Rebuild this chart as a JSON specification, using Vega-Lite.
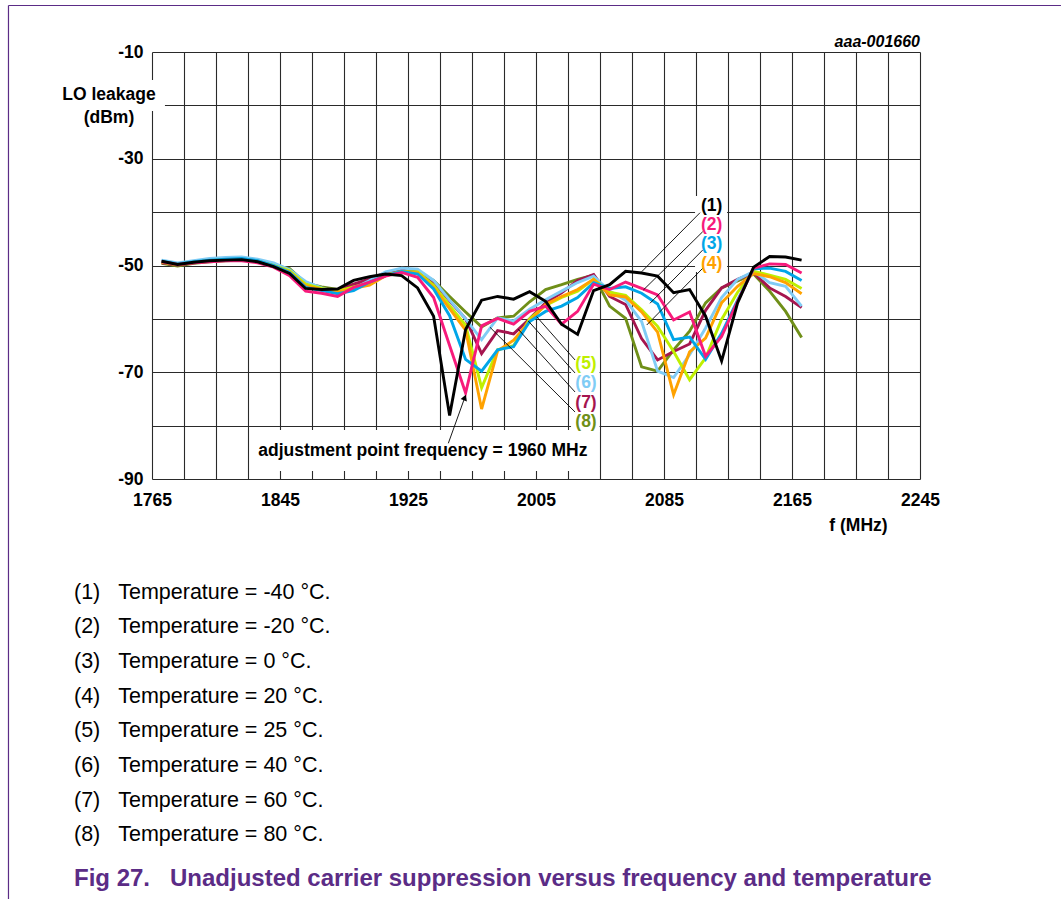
{
  "$schema": "https://vega.github.io/schema/vega-lite/v6.json",
  "width": 768,
  "height": 427,
  "autosize": {"type": "none"},
  "padding": {"left": 152, "top": 52, "right": 141, "bottom": 420},
  "background": "white",
  "config": {"view": {"stroke": null}, "font": "Liberation Sans"},
  "title": {
    "text": [
      "(1)\u00a0\u00a0\u00a0Temperature = -40 °C.",
      "(2)\u00a0\u00a0\u00a0Temperature = -20 °C.",
      "(3)\u00a0\u00a0\u00a0Temperature = 0 °C.",
      "(4)\u00a0\u00a0\u00a0Temperature = 20 °C.",
      "(5)\u00a0\u00a0\u00a0Temperature = 25 °C.",
      "(6)\u00a0\u00a0\u00a0Temperature = 40 °C.",
      "(7)\u00a0\u00a0\u00a0Temperature = 60 °C.",
      "(8)\u00a0\u00a0\u00a0Temperature = 80 °C."
    ],
    "subtitle": "Fig 27.\u00a0\u00a0\u00a0Unadjusted carrier suppression versus frequency and temperature",
    "orient": "bottom",
    "anchor": "start",
    "frame": "group",
    "offset": 0,
    "dx": -78,
    "dy": -318,
    "font": "Liberation Sans",
    "fontSize": 21.5,
    "fontWeight": "normal",
    "color": "#000000",
    "lineHeight": 34.7,
    "subtitleFont": "Liberation Sans",
    "subtitleFontSize": 24,
    "subtitleFontWeight": "bold",
    "subtitleColor": "#5b2c86",
    "subtitlePadding": 21
  },
  "datasets": {
    "curves": [
      {"f":1771,"h_m40":-49.2,"g_m20":-49.3,"f_0":-49.2,"e_20":-49.3,"d_25":-49.4,"c_40":-49.0,"b_60":-49.5,"a_80":-49.6},
      {"f":1781,"h_m40":-49.8,"g_m20":-49.8,"f_0":-49.7,"e_20":-49.8,"d_25":-49.8,"c_40":-49.5,"b_60":-49.9,"a_80":-50.1},
      {"f":1791,"h_m40":-49.4,"g_m20":-49.5,"f_0":-49.3,"e_20":-49.4,"d_25":-49.4,"c_40":-49.1,"b_60":-49.5,"a_80":-49.6},
      {"f":1801,"h_m40":-49.1,"g_m20":-49.3,"f_0":-49.0,"e_20":-49.1,"d_25":-49.1,"c_40":-48.7,"b_60":-49.2,"a_80":-49.3},
      {"f":1811,"h_m40":-49.0,"g_m20":-49.1,"f_0":-48.8,"e_20":-48.9,"d_25":-48.9,"c_40":-48.5,"b_60":-49.0,"a_80":-49.1},
      {"f":1821,"h_m40":-48.9,"g_m20":-49.1,"f_0":-48.7,"e_20":-48.8,"d_25":-48.8,"c_40":-48.4,"b_60":-48.9,"a_80":-49.0},
      {"f":1831,"h_m40":-49.3,"g_m20":-49.5,"f_0":-49.1,"e_20":-49.2,"d_25":-49.2,"c_40":-48.8,"b_60":-49.2,"a_80":-49.3},
      {"f":1841,"h_m40":-50.2,"g_m20":-50.3,"f_0":-50.0,"e_20":-50.1,"d_25":-50.0,"c_40":-49.5,"b_60":-50.0,"a_80":-50.0},
      {"f":1851,"h_m40":-51.5,"g_m20":-51.9,"f_0":-51.3,"e_20":-51.2,"d_25":-51.0,"c_40":-50.8,"b_60":-51.0,"a_80":-50.6},
      {"f":1861,"h_m40":-54.3,"g_m20":-54.8,"f_0":-54.1,"e_20":-53.8,"d_25":-53.5,"c_40":-53.0,"b_60":-54.0,"a_80":-53.3},
      {"f":1871,"h_m40":-54.5,"g_m20":-55.2,"f_0":-54.7,"e_20":-54.5,"d_25":-54.3,"c_40":-54.2,"b_60":-54.4,"a_80":-54.0},
      {"f":1881,"h_m40":-54.4,"g_m20":-55.8,"f_0":-55.3,"e_20":-55.0,"d_25":-54.8,"c_40":-55.0,"b_60":-54.6,"a_80":-54.5},
      {"f":1891,"h_m40":-52.8,"g_m20":-54.1,"f_0":-54.7,"e_20":-54.3,"d_25":-54.0,"c_40":-54.3,"b_60":-53.5,"a_80":-53.6},
      {"f":1901,"h_m40":-52.1,"g_m20":-53.1,"f_0":-53.1,"e_20":-53.7,"d_25":-53.3,"c_40":-52.8,"b_60":-52.5,"a_80":-52.8},
      {"f":1911,"h_m40":-51.6,"g_m20":-52.0,"f_0":-51.9,"e_20":-51.9,"d_25":-51.8,"c_40":-51.2,"b_60":-51.4,"a_80":-51.6},
      {"f":1921,"h_m40":-51.9,"g_m20":-51.3,"f_0":-51.1,"e_20":-51.2,"d_25":-51.1,"c_40":-50.5,"b_60":-50.9,"a_80":-51.0},
      {"f":1931,"h_m40":-54.2,"g_m20":-52.2,"f_0":-51.6,"e_20":-51.4,"d_25":-51.2,"c_40":-50.7,"b_60":-51.2,"a_80":-51.3},
      {"f":1941,"h_m40":-59.5,"g_m20":-56.0,"f_0":-54.4,"e_20":-54.1,"d_25":-53.7,"c_40":-52.8,"b_60":-53.1,"a_80":-52.8},
      {"f":1951,"h_m40":-78.1,"g_m20":-65.0,"f_0":-59.4,"e_20":-58.1,"d_25":-57.5,"c_40":-56.5,"b_60":-56.6,"a_80":-55.8},
      {"f":1961,"h_m40":-62.0,"g_m20":-73.9,"f_0":-67.6,"e_20":-62.1,"d_25":-61.2,"c_40":-60.0,"b_60":-60.0,"a_80":-58.7},
      {"f":1971,"h_m40":-56.5,"g_m20":-61.3,"f_0":-69.8,"e_20":-76.9,"d_25":-72.9,"c_40":-63.9,"b_60":-66.5,"a_80":-61.5},
      {"f":1981,"h_m40":-55.8,"g_m20":-59.9,"f_0":-65.8,"e_20":-66.0,"d_25":-65.8,"c_40":-59.8,"b_60":-62.2,"a_80":-59.8},
      {"f":1991,"h_m40":-56.3,"g_m20":-61.0,"f_0":-65.2,"e_20":-64.0,"d_25":-65.0,"c_40":-60.4,"b_60":-62.8,"a_80":-59.5},
      {"f":2001,"h_m40":-54.9,"g_m20":-58.6,"f_0":-60.5,"e_20":-60.5,"d_25":-60.0,"c_40":-58.2,"b_60":-60.0,"a_80":-56.8},
      {"f":2011,"h_m40":-56.7,"g_m20":-57.6,"f_0":-58.6,"e_20":-57.3,"d_25":-57.5,"c_40":-56.4,"b_60":-57.0,"a_80":-54.5},
      {"f":2021,"h_m40":-61.0,"g_m20":-61.0,"f_0":-57.6,"e_20":-55.8,"d_25":-56.0,"c_40":-54.8,"b_60":-55.1,"a_80":-53.6},
      {"f":2031,"h_m40":-62.9,"g_m20":-58.6,"f_0":-56.0,"e_20":-54.5,"d_25":-54.8,"c_40":-53.2,"b_60":-52.8,"a_80":-52.6},
      {"f":2041,"h_m40":-54.7,"g_m20":-53.5,"f_0":-53.2,"e_20":-52.6,"d_25":-52.6,"c_40":-52.0,"b_60":-51.7,"a_80":-51.8},
      {"f":2051,"h_m40":-53.6,"g_m20":-54.5,"f_0":-54.3,"e_20":-55.5,"d_25":-55.0,"c_40":-54.8,"b_60":-55.8,"a_80":-57.6},
      {"f":2061,"h_m40":-51.1,"g_m20":-53.1,"f_0":-54.0,"e_20":-55.9,"d_25":-55.6,"c_40":-56.5,"b_60":-57.3,"a_80":-59.9},
      {"f":2071,"h_m40":-51.4,"g_m20":-54.3,"f_0":-55.2,"e_20":-58.7,"d_25":-58.3,"c_40":-60.5,"b_60":-63.7,"a_80":-69.0},
      {"f":2081,"h_m40":-52.0,"g_m20":-55.5,"f_0":-57.2,"e_20":-62.5,"d_25":-61.4,"c_40":-69.8,"b_60":-67.7,"a_80":-69.8},
      {"f":2091,"h_m40":-55.1,"g_m20":-60.2,"f_0":-63.9,"e_20":-74.2,"d_25":-66.1,"c_40":-71.0,"b_60":-66.1,"a_80":-65.8},
      {"f":2101,"h_m40":-54.5,"g_m20":-58.7,"f_0":-63.4,"e_20":-66.2,"d_25":-71.4,"c_40":-66.7,"b_60":-64.7,"a_80":-62.3},
      {"f":2111,"h_m40":-59.5,"g_m20":-67.0,"f_0":-67.6,"e_20":-63.6,"d_25":-67.3,"c_40":-61.7,"b_60":-58.4,"a_80":-57.0},
      {"f":2121,"h_m40":-67.9,"g_m20":-63.3,"f_0":-62.7,"e_20":-57.0,"d_25":-60.1,"c_40":-56.0,"b_60":-54.2,"a_80":-54.2},
      {"f":2131,"h_m40":-57.0,"g_m20":-56.7,"f_0":-56.5,"e_20":-53.9,"d_25":-55.0,"c_40":-52.6,"b_60":-52.6,"a_80":-52.9},
      {"f":2141,"h_m40":-50.3,"g_m20":-50.5,"f_0":-50.6,"e_20":-51.5,"d_25":-51.1,"c_40":-51.1,"b_60":-51.4,"a_80":-51.6},
      {"f":2151,"h_m40":-48.3,"g_m20":-49.7,"f_0":-50.5,"e_20":-52.1,"d_25":-51.8,"c_40":-53.2,"b_60":-54.2,"a_80":-54.8},
      {"f":2161,"h_m40":-48.4,"g_m20":-49.8,"f_0":-51.1,"e_20":-53.2,"d_25":-52.6,"c_40":-53.9,"b_60":-55.8,"a_80":-58.6},
      {"f":2171,"h_m40":-49.0,"g_m20":-51.4,"f_0":-52.8,"e_20":-55.3,"d_25":-54.3,"c_40":-57.6,"b_60":-57.9,"a_80":-63.5}
    ],
    "boxes": [
      {"f":1704.4,"f2":1773.1,"v":-15.25,"v2":-21.05},
      {"f":2104.4,"f2":2124.4,"v":-36.98,"v2":-51.2},
      {"f":2026.9,"f2":2044.7,"v":-65.46,"v2":-81.2},
      {"f":1829.4,"f2":2043.75,"v":-80.8,"v2":-88.5}
    ],
    "leaders": [
      {"f":2107.5,"v":-40.11,"f2":2071.06,"v2":-51.16},
      {"f":2109.2,"v":-43.67,"f2":2072.1,"v2":-54.59},
      {"f":2109.2,"v":-47.10,"f2":2076.25,"v2":-57.08},
      {"f":2109.2,"v":-50.52,"f2":2074.2,"v2":-61.15},
      {"f":2029.4,"v":-67.70,"f2":2005.4,"v2":-59.59},
      {"f":2029.4,"v":-70.14,"f2":2000.2,"v2":-60.40},
      {"f":2029.4,"v":-73.70,"f2":1993.9,"v2":-61.95},
      {"f":2029.4,"v":-77.45,"f2":1976.25,"v2":-61.58},
      {"f":1950.2,"v":-83.31,"f2":1960.5,"v2":-74.73}
    ],
    "arrowhead": [{"f":1960.5,"v":-74.73}],
    "frame": [
      {"f":1675.3,"v":-1.29,"f2":1675.3,"v2":-168.69},
      {"f":1675.3,"v":-1.29,"f2":2333.1,"v2":-1.29}
    ],
    "numlabels": [
      {"f":2114.8,"v":-38.80,"label":"(1)","series":"h_m40"},
      {"f":2114.8,"v":-42.41,"label":"(2)","series":"g_m20"},
      {"f":2114.8,"v":-46.03,"label":"(3)","series":"f_0"},
      {"f":2114.8,"v":-49.78,"label":"(4)","series":"e_20"},
      {"f":2036.25,"v":-68.45,"label":"(5)","series":"d_25"},
      {"f":2036.25,"v":-72.07,"label":"(6)","series":"c_40"},
      {"f":2036.25,"v":-75.71,"label":"(7)","series":"b_60"},
      {"f":2036.25,"v":-79.27,"label":"(8)","series":"a_80"}
    ],
    "adjtext": [{"f":1831.4,"v":-85.69,"label":"adjustment point frequency = 1960 MHz"}],
    "ytitle": [{"f":1738.1,"v":-18.99,"label":"LO leakage\n(dBm)"}],
    "code": [{"f":2245,"v":-9.0,"label":"aaa-001660"}]
  },
  "encoding": {
    "x": {
      "field": "f",
      "type": "quantitative",
      "scale": {"domain": [1765, 2245], "nice": false, "zero": false},
      "axis": {
        "values": [1765,1785,1805,1825,1845,1865,1885,1905,1925,1945,1965,1985,2005,2025,2045,2065,2085,2105,2125,2145,2165,2185,2205,2225,2245],
        "labelExpr": "(datum.value - 1765) % 80 == 0 ? '' + datum.value : ''",
        "grid": true,
        "gridColor": "#2a2a2a",
        "gridWidth": 1.1,
        "gridOpacity": 1,
        "domain": false,
        "ticks": false,
        "tickSize": 0,
        "labelPadding": 12,
        "labelFlush": false,
        "labelOverlap": false,
        "labelBound": false,
        "labelFont": "Liberation Sans",
        "labelFontSize": 17.5,
        "labelFontWeight": "bold",
        "labelColor": "#000000",
        "title": "f (MHz)",
        "titleFont": "Liberation Sans",
        "titleFontSize": 17.5,
        "titleFontWeight": "bold",
        "titleColor": "#000000",
        "titleX": 706,
        "titleY": 51,
        "titleAlign": "center",
        "titleBaseline": "alphabetic"
      }
    },
    "y": {
      "field": "v",
      "type": "quantitative",
      "scale": {"domain": [-90, -10], "nice": false, "zero": false},
      "axis": {
        "values": [-90,-80,-70,-60,-50,-40,-30,-20,-10],
        "labelExpr": "(datum.value + 10) % 20 == 0 ? '' + datum.value : ''",
        "grid": true,
        "gridColor": "#2a2a2a",
        "gridWidth": 1.1,
        "gridOpacity": 1,
        "domain": false,
        "ticks": false,
        "tickSize": 0,
        "labelPadding": 9,
        "labelOverlap": false,
        "labelBound": false,
        "labelFont": "Liberation Sans",
        "labelFontSize": 17.5,
        "labelFontWeight": "bold",
        "labelColor": "#000000",
        "title": null
      }
    }
  },
  "layer": [
    {
      "data": {"name": "boxes"},
      "mark": {"type": "rect", "fill": "#ffffff", "stroke": null},
      "encoding": {"x2": {"field": "f2"}, "y2": {"field": "v2"}}
    },
    {
      "data": {"name": "curves"},
      "transform": [{"fold": ["a_80","b_60","c_40","d_25","e_20","f_0","g_m20","h_m40"], "as": ["series", "v"]}],
      "mark": {"type": "line", "strokeWidth": 2.9, "strokeJoin": "miter"},
      "encoding": {
        "color": {
          "field": "series",
          "type": "nominal",
          "scale": {
            "domain": ["a_80","b_60","c_40","d_25","e_20","f_0","g_m20","h_m40"],
            "range": ["#6f8f18","#a5154f","#80ccf5","#bfef00","#ffa200","#00a6e8","#f71b7b","#000000"]
          },
          "legend": null
        }
      }
    },
    {
      "data": {"name": "leaders"},
      "mark": {"type": "rule", "color": "#000000", "strokeWidth": 0.9},
      "encoding": {"x2": {"field": "f2"}, "y2": {"field": "v2"}}
    },
    {
      "data": {"name": "arrowhead"},
      "mark": {"type": "point", "shape": "triangle-up", "filled": true, "color": "#000000", "opacity": 1, "size": 45, "angle": 21}
    },
    {
      "data": {"name": "frame"},
      "mark": {"type": "rule", "color": "#5b2c86", "strokeWidth": 1.2},
      "encoding": {"x2": {"field": "f2"}, "y2": {"field": "v2"}}
    },
    {
      "data": {"name": "numlabels"},
      "mark": {"type": "text", "font": "Liberation Sans", "fontSize": 17.5, "fontWeight": "bold", "align": "center", "baseline": "middle"},
      "encoding": {
        "text": {"field": "label"},
        "color": {"field": "series", "type": "nominal", "legend": null}
      }
    },
    {
      "data": {"name": "adjtext"},
      "mark": {"type": "text", "font": "Liberation Sans", "fontSize": 17.5, "fontWeight": "bold", "align": "left", "baseline": "alphabetic", "color": "#000000"},
      "encoding": {"text": {"field": "label"}}
    },
    {
      "data": {"name": "ytitle"},
      "mark": {"type": "text", "font": "Liberation Sans", "fontSize": 17.5, "fontWeight": "bold", "align": "center", "baseline": "alphabetic", "color": "#000000", "lineBreak": "\n", "lineHeight": 23},
      "encoding": {"text": {"field": "label"}}
    },
    {
      "data": {"name": "code"},
      "mark": {"type": "text", "font": "Liberation Sans", "fontSize": 16, "fontWeight": "bold", "fontStyle": "italic", "align": "right", "baseline": "alphabetic", "color": "#000000"},
      "encoding": {"text": {"field": "label"}}
    }
  ]
}
